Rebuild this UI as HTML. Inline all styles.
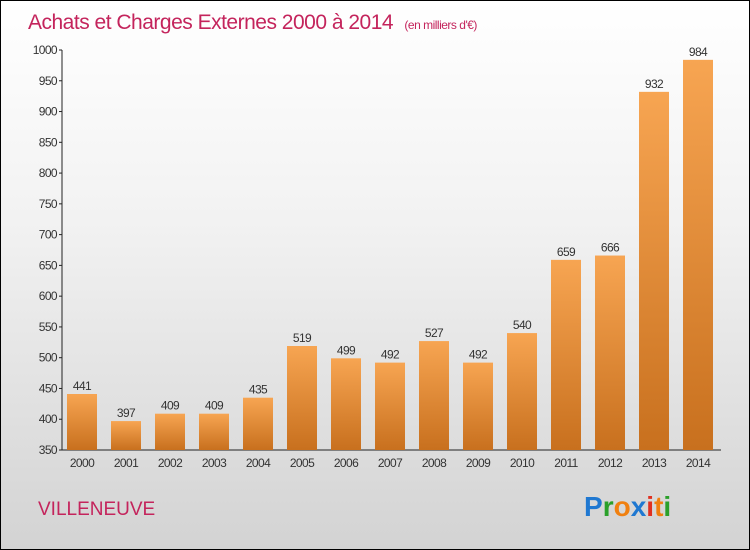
<!DOCTYPE html>
<html><head><meta charset="utf-8"><style>
body{margin:0}
#c{position:relative;width:748px;height:548px;border:1px solid #000;background:linear-gradient(#ffffff,#f2f2f2 40%,#d3d3d3);overflow:hidden;font-family:"Liberation Sans",sans-serif}
</style></head><body>
<div id="c">
<svg id="s" width="748" height="548">
<defs><linearGradient id="g" x1="0" y1="0" x2="0" y2="1"><stop offset="0" stop-color="#f7a552"/><stop offset="1" stop-color="#c8701e"/></linearGradient></defs>
<text x="27" y="28" font-size="21" fill="#c4245c" style="letter-spacing:-0.5px">Achats et Charges Externes 2000 à 2014 <tspan font-size="12" dx="6">(en milliers d'€)</tspan></text>
<text x="37" y="514" font-size="19" fill="#c4245c">VILLENEUVE</text>
<g font-size="28" font-weight="bold" font-family="'Liberation Sans',sans-serif">
<text x="583" y="515"><tspan fill="#1f78d1">P</tspan><tspan fill="#2aa02a">r</tspan><tspan fill="#f08010">o</tspan><tspan fill="#1f78d1">x</tspan><tspan fill="#e03020">i</tspan><tspan fill="#f08010">t</tspan><tspan fill="#2aa02a">i</tspan></text></g>
<g id="ax"></g><g id="bars"></g>
</svg></div>
<script>
const years=["2000","2001","2002","2003","2004","2005","2006","2007","2008","2009","2010","2011","2012","2013","2014"];
const values=[441,397,409,409,435,519,499,492,527,492,540,659,666,932,984];
const ticks=[350,400,450,500,550,600,650,700,750,800,850,900,950,1000];
const NS="http://www.w3.org/2000/svg";
const y=v=>449-(v-350)*400/650;
const x=i=>81+i*44;
function mk(t,a,p){const e=document.createElementNS(NS,t);for(const k in a)e.setAttribute(k,a[k]);p.appendChild(e);return e;}
const ax=document.getElementById('ax'),bg=document.getElementById('bars');
const yl=mk('line',{x1:61,y1:49,x2:61,y2:449,stroke:'#222'},ax);


const xl=mk('line',{x1:61,y1:449,x2:720,y2:449,stroke:'#222'},ax);


ticks.forEach(t=>{mk('line',{x1:58,x2:61,y1:y(t),y2:y(t),stroke:'#222'},ax);
const tx=mk('text',{x:56,y:y(t)+4,'font-size':12,'text-anchor':'end',fill:'#333','letter-spacing':'-0.6'},ax);tx.textContent=t;

});
values.forEach((v,i)=>{const r=mk('rect',{x:x(i)-15,y:y(v),width:30,height:449-y(v),fill:'url(#g)'},bg);


const l=mk('text',{x:x(i),y:y(v)-4,'font-size':12,'text-anchor':'middle',fill:'#333','letter-spacing':'-0.6'},bg);l.textContent=v;


const xt=mk('text',{x:x(i),y:466,'font-size':12,'text-anchor':'middle',fill:'#333','letter-spacing':'-0.6'},bg);xt.textContent=years[i];

});
</script>
</body></html>
